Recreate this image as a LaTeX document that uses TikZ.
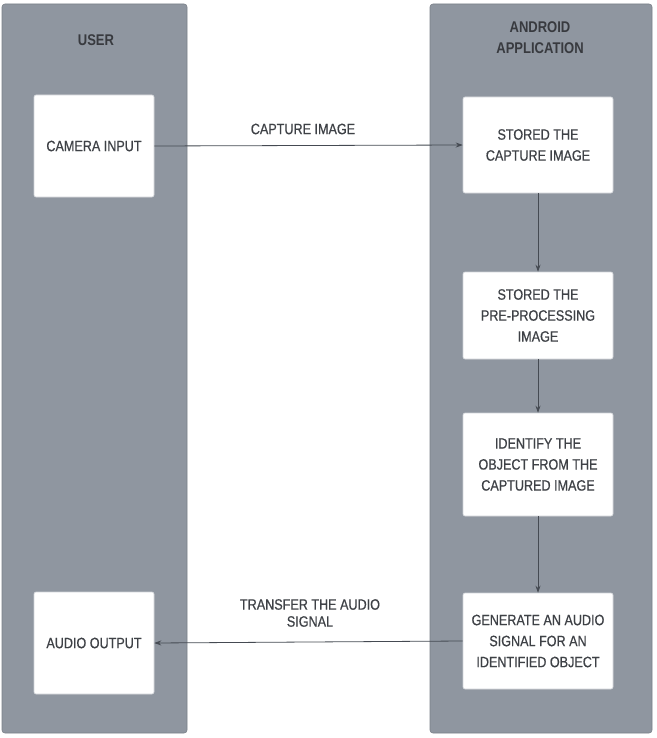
\documentclass[tikz,border=0pt]{standalone}
\usepackage{fontspec}
\setmainfont{Liberation Sans}[FakeStretch=0.84]
\usetikzlibrary{arrows.meta}
\definecolor{lanegray}{HTML}{8F96A0}
\definecolor{txtgray}{HTML}{3E4146}
\definecolor{linegray}{HTML}{454A52}
\definecolor{boxedge}{HTML}{D0D3D8}
\begin{document}
\begin{tikzpicture}[x=1pt,y=-1pt,
  lane/.style={fill=lanegray,draw=lanegray!85!black,line width=0.6pt,rounded corners=3pt},
  box/.style={fill=white,draw=boxedge,line width=0.6pt,rounded corners=2pt,align=center,
    text=txtgray,font=\fontsize{15}{21}\selectfont\addfontfeature{FakeBold=0.6},inner sep=2pt},
  title/.style={align=center,text=txtgray!90!black,font=\fontsize{15.5}{21}\selectfont\bfseries},
  lbl/.style={align=center,text=txtgray,font=\fontsize{15}{17}\selectfont\addfontfeature{FakeBold=0.6}},
  conn/.style={draw=linegray,line width=0.8pt,-{Stealth[length=7pt,width=5pt]}}]
\useasboundingbox (0,0) rectangle (656,738);
\fill[white] (0,0) rectangle (656,738);
\draw[lane] (2,4) rectangle (187,733);
\draw[lane] (430,4) rectangle (652,733);
\node[title] (user) at (96,40) {USER};
\node[title] (android) at (540,38) {ANDROID\\APPLICATION};
\node[box,minimum width=120pt,minimum height=102pt] (cam) at (94,146) {CAMERA INPUT};
\node[box,minimum width=120pt,minimum height=102pt] (aud) at (94,643) {AUDIO OUTPUT};
\node[box,minimum width=150pt,minimum height=96pt] (s1) at (538,145) {STORED THE\\CAPTURE IMAGE};
\node[box,minimum width=150pt,minimum height=87pt] (s2) at (538,315.5) {STORED THE\\PRE-PROCESSING\\IMAGE};
\node[box,minimum width=150pt,minimum height=103pt] (s3) at (538,464.5) {IDENTIFY THE\\OBJECT FROM THE\\CAPTURED IMAGE};
\node[box,minimum width=150pt,minimum height=96pt] (s4) at (538,641) {GENERATE AN AUDIO\\SIGNAL FOR AN\\IDENTIFIED OBJECT};
\draw[conn] (cam.east) -- (s1.west);
\node[lbl] (l1) at (303,129) {CAPTURE IMAGE};
\draw[conn] (s1.south) -- (s2.north);
\draw[conn] (s2.south) -- (s3.north);
\draw[conn] (s3.south) -- (s4.north);
\draw[conn] (s4.west) -- (aud.east);
\node[lbl] (l2) at (310,613) {TRANSFER THE AUDIO\\SIGNAL};
\end{tikzpicture}
\end{document}
